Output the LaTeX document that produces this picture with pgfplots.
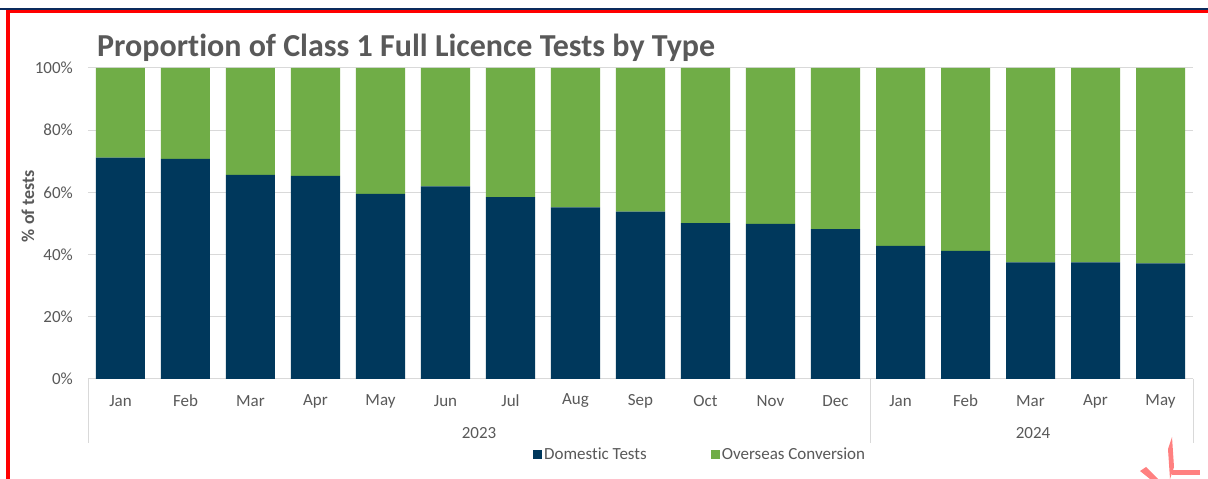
\documentclass[border=0pt]{standalone}
\usepackage{fontspec}
\setmainfont{Carlito}[Ligatures={NoCommon}]
\usepackage{pgfplots}
\pgfplotsset{compat=1.18}
\definecolor{domblue}{HTML}{00385C}
\definecolor{ovgreen}{HTML}{70AD47}
\definecolor{txtgrey}{HTML}{595959}
\definecolor{gridgrey}{HTML}{D9D9D9}
\definecolor{framered}{HTML}{FF0000}
\definecolor{framenavy}{HTML}{0A2A5C}

\begin{document}
\begin{tikzpicture}[x=1pt,y=1pt]
\useasboundingbox (0,0) rectangle (1208,479);
\fill[white] (0,0) rectangle (1208,479);
% frame pieces from the screenshot
\fill[framenavy] (0,469) rectangle (1208,471);
\fill[framered] (6,466) rectangle (1208,469);
\fill[framered] (6,0) rectangle (10,469);
\fill[red!50] (1168,30) -- (1172,42) -- (1174,12) -- (1170,0) -- cycle;
\fill[red!50] (1150,0) -- (1158,0) -- (1146,12) -- (1140,8) -- cycle;
\fill[red!50] (1172,4) rectangle (1200,9);

\node[anchor=west, font=\fontsize{32}{36}\selectfont\bfseries, text=txtgrey, inner sep=0pt]
  at (97,431) {Proportion of Class 1 Full Licence Tests by Type};

\begin{axis}[
  at={(88pt,100pt)}, anchor=south west,
  scale only axis, width=1105pt, height=311pt,
  ybar stacked, bar width=49pt,
  xmin=-0.5, xmax=16.5, ymin=0, ymax=100,
  xtick={0,...,16},
  xticklabels={Jan,Feb,Mar,Apr,May,Jun,Jul,Aug,Sep,Oct,Nov,Dec,Jan,Feb,Mar,Apr,May},
  ytick={0,20,40,60,80,100},
  yticklabels={0\%,20\%,40\%,60\%,80\%,100\%},
  major tick length=0pt,
  axis line style={draw=none},
  ymajorgrids, grid style={draw=gridgrey, line width=1pt},
  xticklabel style={font=\fontsize{17}{19}\selectfont, text=txtgrey, anchor=center, yshift=-22pt},
  yticklabel style={font=\fontsize{17}{19}\selectfont, text=txtgrey, anchor=east, inner sep=0pt, xshift=-15pt},
  legend style={at={(0.554,-0.244)}, anchor=center, draw=none, fill=none,
    legend columns=2, font=\fontsize{17}{19}\selectfont, text=txtgrey,
    /tikz/every even column/.append style={column sep=62pt}},
  legend image code/.code={\fill[#1] (-3pt,-4.5pt) rectangle (6pt,4.5pt);},
  clip=false,
]
\addplot[fill=domblue, draw=none] coordinates {
(0,71.2) (1,70.8) (2,65.6) (3,65.3) (4,59.5) (5,61.9) (6,58.5) (7,55.2) (8,53.8)
(9,50.1) (10,49.9) (11,48.2) (12,42.8) (13,41.2) (14,37.5) (15,37.5) (16,37.2)};
\addlegendentry{Domestic Tests}
\addplot[fill=ovgreen, draw=none] coordinates {
(0,28.8) (1,29.2) (2,34.4) (3,34.7) (4,40.5) (5,38.1) (6,41.5) (7,44.8) (8,46.2)
(9,49.9) (10,50.1) (11,51.8) (12,57.2) (13,58.8) (14,62.5) (15,62.5) (16,62.8)};
\addlegendentry{Overseas Conversion}
\end{axis}

% multi-level category axis
\draw[gridgrey, line width=1pt] (88,100) -- (88,36);
\draw[gridgrey, line width=1pt] (870,100) -- (870,36);
\draw[gridgrey, line width=1pt] (1193,100) -- (1193,36);
\node[font=\fontsize{17}{19}\selectfont, text=txtgrey] at (479,46) {2023};
\node[font=\fontsize{17}{19}\selectfont, text=txtgrey] at (1033,46) {2024};
\node[rotate=90, font=\fontsize{18}{20}\selectfont\bfseries, text=txtgrey] at (28,273) {\% of tests};
\end{tikzpicture}
\end{document}
